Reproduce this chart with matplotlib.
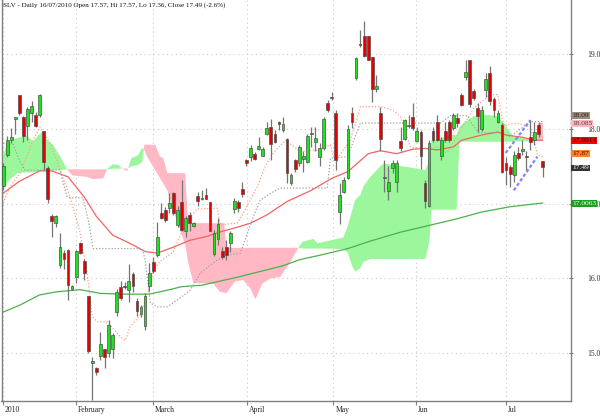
import numpy as np
import matplotlib
matplotlib.use('Agg')
import matplotlib.pyplot as plt
import matplotlib.transforms as mtransforms

# SLV daily bars, Jan - 16 Jul 2010 (index 0 = first bar on the chart)
opens = [17.24, 17.65, 17.85, 18.14, 18.45, 18.16, 18.04, 18.21, 18.19, 18.19,
         17.97, 17.48, 16.83, 16.74, 16.18, 16.34, 16.38, 15.86, 16.02, 16.47,
         16.23, 15.76, 14.87, 14.80, 14.96, 15.05, 15.00, 15.05, 15.55, 15.89,
         15.90, 15.85, 16.06, 15.70, 15.53, 15.36, 15.90, 16.22, 16.31, 16.88,
         16.92, 16.94, 17.14, 16.72, 17.03, 16.63, 16.85, 16.70, 17.10, 17.06,
         17.12, 17.02, 16.33, 16.53, 16.37, 16.42, 16.47, 16.93, 17.03, 17.20,
         17.58, 17.62, 17.67, 17.73, 17.64, 17.93, 18.03, 17.94, 18.09, 17.99,
         17.87, 17.28, 17.58, 17.55, 17.60, 17.56, 17.93, 17.82, 17.63, 17.74,
         18.35, 18.42, 18.22, 16.89, 17.16, 17.35, 18.22, 18.68, 19.13, 19.24,
         19.24, 18.96, 18.53, 18.22, 17.34, 17.17, 17.48, 17.29, 17.84, 17.87,
         18.04, 18.16, 17.84, 17.96, 17.28, 16.97, 17.97, 18.10, 17.64, 17.98,
         18.10, 18.02, 18.15, 18.45, 18.70, 18.92, 18.51, 18.28, 18.00, 18.52,
         18.75, 18.40, 18.10, 18.06, 17.55, 17.49, 17.38, 17.68, 17.71, 17.64,
         17.89, 17.85, 18.05, 17.57]
highs = [17.54, 17.91, 18.01, 18.15, 18.46, 18.17, 18.29, 18.38, 18.23, 18.47,
         17.98, 17.50, 16.86, 16.85, 16.61, 16.38, 16.39, 15.91, 16.38, 16.49,
         16.26, 15.77, 14.95, 14.81, 15.29, 15.06, 15.44, 15.27, 15.86, 15.96,
         15.95, 16.19, 16.08, 15.74, 15.64, 15.80, 16.21, 16.29, 16.75, 17.01,
         16.96, 17.15, 17.16, 16.97, 17.32, 16.83, 16.89, 16.75, 17.16, 17.18,
         17.21, 17.03, 16.65, 16.81, 16.42, 16.51, 16.64, 17.08, 17.05, 17.29,
         17.60, 17.79, 17.69, 17.90, 17.76, 18.10, 18.13, 17.99, 18.11, 18.16,
         17.88, 17.41, 17.60, 17.79, 17.71, 17.94, 18.03, 18.03, 17.81, 18.16,
         18.39, 18.50, 18.25, 17.28, 17.36, 18.05, 18.29, 18.96, 19.33, 19.44,
         19.25, 18.97, 18.72, 18.29, 17.59, 17.51, 17.59, 17.59, 18.03, 18.14,
         18.19, 18.35, 18.03, 17.99, 17.32, 17.85, 18.03, 18.19, 17.90, 18.10,
         18.12, 18.21, 18.21, 18.48, 18.92, 18.93, 18.54, 18.35, 18.31, 18.75,
         18.84, 18.43, 18.25, 18.08, 17.63, 17.52, 17.70, 17.76, 17.85, 17.70,
         18.12, 18.10, 18.10, 17.57]
lows = [17.18, 17.62, 17.81, 17.93, 18.19, 17.83, 17.85, 18.10, 18.03, 18.16,
        17.45, 17.01, 16.55, 16.69, 16.14, 16.13, 15.71, 15.84, 15.94, 16.33,
        15.98, 15.00, 14.37, 14.71, 14.91, 14.80, 14.95, 14.93, 15.50, 15.71,
        15.86, 15.69, 15.82, 15.50, 15.49, 15.31, 15.83, 16.07, 16.29, 16.80,
        16.76, 16.88, 16.85, 16.69, 16.63, 16.56, 16.63, 16.69, 16.97, 17.05,
        17.06, 16.63, 16.30, 16.45, 16.26, 16.25, 16.36, 16.88, 16.89, 17.09,
        17.50, 17.57, 17.59, 17.72, 17.64, 17.92, 17.59, 17.81, 17.99, 17.96,
        17.28, 17.25, 17.43, 17.50, 17.43, 17.55, 17.76, 17.71, 17.50, 17.72,
        18.23, 18.39, 17.45, 16.73, 17.14, 17.33, 18.01, 18.66, 19.10, 18.97,
        18.92, 18.36, 18.50, 17.71, 17.16, 17.05, 17.41, 17.16, 17.71, 17.85,
        18.02, 17.99, 17.83, 17.46, 16.94, 16.96, 17.83, 17.84, 17.59, 17.83,
        17.82, 17.99, 18.03, 18.31, 18.66, 18.30, 18.39, 17.96, 17.98, 18.43,
        18.32, 18.16, 18.08, 17.41, 17.25, 17.23, 17.29, 17.58, 17.65, 17.45,
        17.72, 17.79, 17.90, 17.36]
closes = [17.50, 17.85, 17.89, 18.15, 18.21, 17.91, 18.27, 18.31, 18.04, 18.45,
          17.56, 17.06, 16.77, 16.84, 16.42, 16.26, 15.91, 15.90, 16.37, 16.34,
          16.07, 15.03, 14.89, 14.75, 15.12, 14.95, 15.38, 15.24, 15.82, 15.74,
          15.88, 15.97, 15.90, 15.57, 15.62, 15.76, 16.07, 16.10, 16.55, 16.81,
          16.78, 17.01, 16.88, 16.92, 16.65, 16.81, 16.74, 16.74, 17.04, 17.08,
          17.07, 16.64, 16.61, 16.73, 16.29, 16.32, 16.61, 17.04, 16.94, 17.13,
          17.54, 17.75, 17.60, 17.77, 17.73, 18.01, 17.80, 17.83, 18.07, 18.07,
          17.41, 17.38, 17.47, 17.76, 17.64, 17.91, 17.93, 17.88, 17.74, 18.14,
          18.25, 18.41, 17.59, 17.12, 17.32, 18.00, 18.10, 18.95, 19.12, 18.98,
          18.93, 18.53, 18.58, 17.87, 17.35, 17.29, 17.55, 17.54, 17.74, 18.12,
          18.04, 18.01, 17.98, 17.64, 17.04, 17.81, 17.85, 17.85, 17.85, 17.85,
          17.85, 18.19, 18.08, 18.32, 18.76, 18.33, 18.42, 18.17, 18.26, 18.67,
          18.37, 18.26, 18.21, 17.43, 17.45, 17.40, 17.65, 17.61, 17.73, 17.62,
          17.82, 17.96, 17.94, 17.49]

# moving averages
ma_red_x = [0, 4, 9, 12, 16, 20, 23, 27, 32, 35, 38, 42, 46, 50, 54, 58, 61, 65,
            70, 72, 76, 81, 85, 90, 93, 97, 101, 104, 107, 111, 113, 118, 122,
            124, 128, 131, 133]
ma_red_y = [17.14, 17.30, 17.44, 17.44, 17.36, 17.09, 16.83, 16.58, 16.45, 16.36,
            16.34, 16.42, 16.51, 16.56, 16.63, 16.69, 16.74, 16.85, 17.03, 17.08,
            17.18, 17.34, 17.43, 17.67, 17.71, 17.67, 17.73, 17.74, 17.72, 17.76,
            17.85, 17.92, 17.96, 17.92, 17.89, 17.85, 17.85]
ma_green_x = [0, 4, 9, 13, 19, 24, 30, 36, 41, 44, 49, 58, 69, 73, 78, 85, 90.5,
              98, 112, 118, 125, 133]
ma_green_y = [15.55, 15.64, 15.78, 15.82, 15.85, 15.80, 15.79, 15.79, 15.85,
              15.89, 15.91, 16.02, 16.17, 16.25, 16.31, 16.40, 16.50, 16.62,
              16.80, 16.89, 16.96, 17.01]

# conversion / base lines
tenkan_x = [0, 1.7, 4.2, 7.4, 9.1, 11.6, 14.1, 16.5, 19.0, 20.7, 22.0, 23.2, 25.7,
            28.9, 30.1, 31.3, 33.8, 35.8, 37.0, 38.7, 41.9, 43.7, 45.4, 47.9,
            52.8, 53.5, 57.7, 59.2, 60.9, 62.7, 64.6, 66.6, 69.6, 73.3, 78.2,
            80.7, 81.4, 82.7, 85.6, 88.1, 93.0, 96.2, 98.0, 100.4, 102.9, 107.1,
            109.5, 112.8, 114.5, 116.0, 120.2, 121.9, 123.4, 126.8, 130.0, 130.8,
            131.8, 133]
tenkan_y = [17.01, 17.23, 17.41, 17.85, 18.03, 17.81, 17.45, 17.09, 16.61, 16.07,
            15.49, 15.42, 15.42, 15.22, 15.17, 15.35, 15.51, 15.82, 16.11, 16.23,
            16.35, 16.58, 16.78, 16.93, 16.94, 16.72, 16.74, 16.87, 17.05, 17.23,
            17.50, 17.68, 17.85, 17.70, 17.72, 17.79, 17.63, 17.63, 17.85, 18.30,
            18.30, 18.25, 18.16, 17.76, 17.74, 17.76, 17.68, 17.99, 18.14, 18.28,
            18.46, 18.46, 18.05, 18.08, 18.03, 17.85, 17.65, 17.63]
kijun_x = [0, 2.5, 4.2, 5.4, 14.1, 14.6, 15.8, 17.0, 19.7, 21.0, 22.2, 34.3, 35.0,
           36.3, 38.0, 40.5, 42.9, 46.1, 48.6, 52.8, 55.3, 58.5, 60.2, 61.7, 63.4,
           66.6, 68.3, 79.9, 80.7, 84.9, 88.1, 107.8, 110.3, 114.5, 115.2, 117.2,
           122.6, 125.1, 130.0, 133]
kijun_y = [17.81, 17.79, 17.56, 17.45, 17.45, 17.32, 17.09, 17.08, 17.08, 16.78,
           16.40, 16.40, 16.25, 15.67, 15.62, 15.62, 15.71, 15.84, 16.07, 16.25,
           16.31, 16.34, 16.60, 16.83, 17.05, 17.16, 17.21, 17.21, 17.61, 17.63,
           18.08, 18.08, 18.18, 18.18, 18.10, 17.95, 17.95, 17.90, 18.10, 18.10]

# ichimoku cloud: leading span A and B
cloud_x = [0, 1.0, 3.5, 5.9, 7.4, 8.4, 9.6, 10.9, 12.3, 14.1, 15.8, 17.0, 20.7,
           22.2, 24.7, 25.7, 27.1, 28.4, 29.6, 30.6, 31.6, 33.3, 34.3, 34.8, 35.5,
           37.5, 38.7, 39.5, 40.5, 41.9, 44.9, 45.6, 46.9, 51.8, 53.5, 54.5, 55.0,
           57.2, 59.2, 60.9, 62.2, 63.9, 65.9, 68.3, 70.8, 72.8, 73.8, 76.5, 77.5,
           80.7, 83.9, 84.9, 86.1, 86.8, 88.1, 88.8, 90.5, 93.0, 93.8, 102.1,
           104.1, 105.1, 105.6, 111.0, 111.8, 112.5, 113.5, 116.0, 119.4, 121.9,
           123.4, 125.8, 130.0, 131.5, 131.8, 133.2]
span_a = [17.65, 17.81, 17.88, 17.91, 17.83, 17.90, 17.96, 17.85, 17.79, 17.63,
          17.46, 17.38, 17.36, 17.33, 17.34, 17.47, 17.53, 17.52, 17.46, 17.44,
          17.61, 17.65, 17.75, 17.72, 17.63, 17.45, 17.34, 17.27, 17.18, 16.92,
          16.45, 16.22, 15.94, 15.93, 15.82, 15.81, 15.80, 15.96, 15.98, 15.87,
          15.72, 15.93, 16.00, 16.02, 16.22, 16.41, 16.49, 16.53, 16.47, 16.51,
          16.55, 16.69, 16.92, 17.05, 17.12, 17.23, 17.36, 17.50, 17.54, 17.47,
          17.45, 17.59, 17.85, 17.92, 17.92, 18.03, 18.08, 18.17, 18.19, 18.17,
          18.08, 17.90, 17.87, 17.85, 17.85, 17.85]
span_b = [17.21, 17.29, 17.41, 17.42, 17.42, 17.43, 17.44, 17.44, 17.45, 17.45,
          17.46, 17.46, 17.46, 17.46, 17.46, 17.46, 17.47, 17.47, 17.47, 17.47,
          17.50, 17.52, 17.56, 17.79, 17.79, 17.79, 17.63, 17.61, 17.41, 17.41,
          17.41, 16.74, 16.74, 16.74, 16.74, 16.74, 16.41, 16.41, 16.41, 16.41,
          16.41, 16.41, 16.41, 16.41, 16.41, 16.41, 16.40, 16.40, 16.40, 16.40,
          16.39, 16.35, 16.16, 16.09, 16.14, 16.22, 16.26, 16.26, 16.26, 16.26,
          16.26, 16.50, 16.92, 16.92, 16.92, 17.83, 17.83, 17.83, 17.83, 17.83,
          17.83, 17.83, 17.84, 17.84, 18.085, 18.085]

# hand-drawn channel
chan_up_x = [123.9, 130.0]
chan_up_y = [17.68, 18.12]
chan_lo_x = [125.9, 131.7]
chan_lo_y = [17.18, 17.63]

month_pos = [0, 18.0, 37.0, 60.2, 81.4, 101.7, 123.9]
month_labels = ['2010', 'February', 'March', 'April', 'May', 'Jun', 'Jul']
price_ticks = [15.0, 16.0, 17.0, 18.0, 19.0]

# last-value tags on the right: text, where it sits, box colour, text colour
tag_text = ['18.09', '18.085', '17.9914', '17.87', '17.49', '17.0063']
tag_y = [18.18, 18.075, 17.85, 17.67, 17.48, 17.00]
tag_bg = ['#9c8b7b', '#ffb6c1', '#ff0000', '#ff7f2a', '#333333', '#1e9e1e']
tag_fg = ['#222222', '#444444', '#330000', '#331100', '#ffffff', '#ffffff']

plt.rcParams['font.family'] = ['Liberation Serif', 'DejaVu Serif']

fig = plt.figure(figsize=(6, 4.16), dpi=100)
ax = fig.add_axes([1.5 / 600, 15 / 416, 569.5 / 600, 401 / 416])

o = np.array(opens)
h = np.array(highs)
l = np.array(lows)
c = np.array(closes)
x = np.arange(len(o))

# cloud
cx = np.array(cloud_x)
sa = np.array(span_a)
sb = np.array(span_b)
ax.fill_between(cx, sa, sb, where=sa >= sb, interpolate=True,
                color='#9cf79c', lw=0, zorder=1)
ax.fill_between(cx, sa, sb, where=sa < sb, interpolate=True,
                color='#ffb8c4', lw=0, zorder=1)

# grid
for p in price_ticks:
    ax.axhline(p, color='#c8c8c8', lw=0.8, ls=(0, (1, 3)), zorder=0.5)
for m in month_pos:
    ax.axvline(m, color='#c8c8c8', lw=0.8, ls=(0, (1, 3)), zorder=0.5)

# indicator lines
ax.plot(ma_green_x, ma_green_y, color='#4cb04c', lw=0.9, zorder=2)
ax.plot(ma_red_x, ma_red_y, color='#f26262', lw=0.9, zorder=2)
ax.plot(tenkan_x, tenkan_y, color='#ff9f80', lw=0.9, ls=(0, (1, 1.5)), zorder=2)
ax.plot(kijun_x, kijun_y, color='#a0a0a0', lw=0.9, ls=(0, (1, 1.5)), zorder=2)
ax.plot(chan_up_x, chan_up_y, color='#8484ff', lw=1.6, ls=(0, (1.5, 1)), zorder=2.5)
ax.plot(chan_lo_x, chan_lo_y, color='#8484ff', lw=1.6, ls=(0, (1.5, 1)), zorder=2.5)

# candles
up = c >= o
ax.vlines(x, l, h, color='#757575', lw=0.9, zorder=3)
body_lo = np.minimum(o, c)
body_h = np.maximum(np.abs(c - o), 0.02)
ax.bar(x[up], body_h[up], bottom=body_lo[up], width=0.68,
       color='#19e619', edgecolor='#505050', lw=0.5, zorder=4)
ax.bar(x[~up], body_h[~up], bottom=body_lo[~up], width=0.68,
       color='#e60000', edgecolor='#505050', lw=0.5, zorder=4)

ax.set_xlim(-0.4, 140.0)
ax.set_ylim(14.36, 19.727)

# axes look
ax.spines['top'].set_visible(False)
for s in ['left', 'right', 'bottom']:
    ax.spines[s].set_color('#808080')
    ax.spines[s].set_linewidth(1.0)

ax.yaxis.tick_right()
ax.set_yticks(price_ticks)
ax.set_yticklabels([f'{p:.1f}' for p in price_ticks])
ax.tick_params(axis='y', direction='inout', length=3, width=0.8, color='#808080',
               pad=10, labelsize=5.5, labelcolor='#333333')

ax.set_xticks(month_pos)
ax.set_xticklabels(month_labels)
ax.tick_params(axis='x', direction='out', length=3, width=0.8, color='#808080',
               pad=0.5, labelsize=5.5, labelcolor='#222222')
shift = mtransforms.ScaledTranslation(2 / 100, 0, fig.dpi_scale_trans)
for lab in ax.get_xticklabels():
    lab.set_horizontalalignment('left')
    lab.set_transform(lab.get_transform() + shift)

# value tags
tr = mtransforms.blended_transform_factory(ax.transAxes, ax.transData)
for t, yv, bg, fg in zip(tag_text, tag_y, tag_bg, tag_fg):
    ax.text(1.002, yv, t, transform=tr, fontsize=5.3, color=fg, va='center',
            ha='left', clip_on=False, zorder=10,
            bbox=dict(boxstyle='square,pad=0.12', fc=bg, ec='none'))

fig.text(3 / 600, 1 - 2 / 416,
         'SLV - Daily 16/07/2010 Open 17.57, Hi 17.57, Lo 17.36, Close 17.49 (-2.6%)',
         fontsize=5.1, va='top', ha='left', color='#111111')

fig.savefig('out.png', dpi=100)
